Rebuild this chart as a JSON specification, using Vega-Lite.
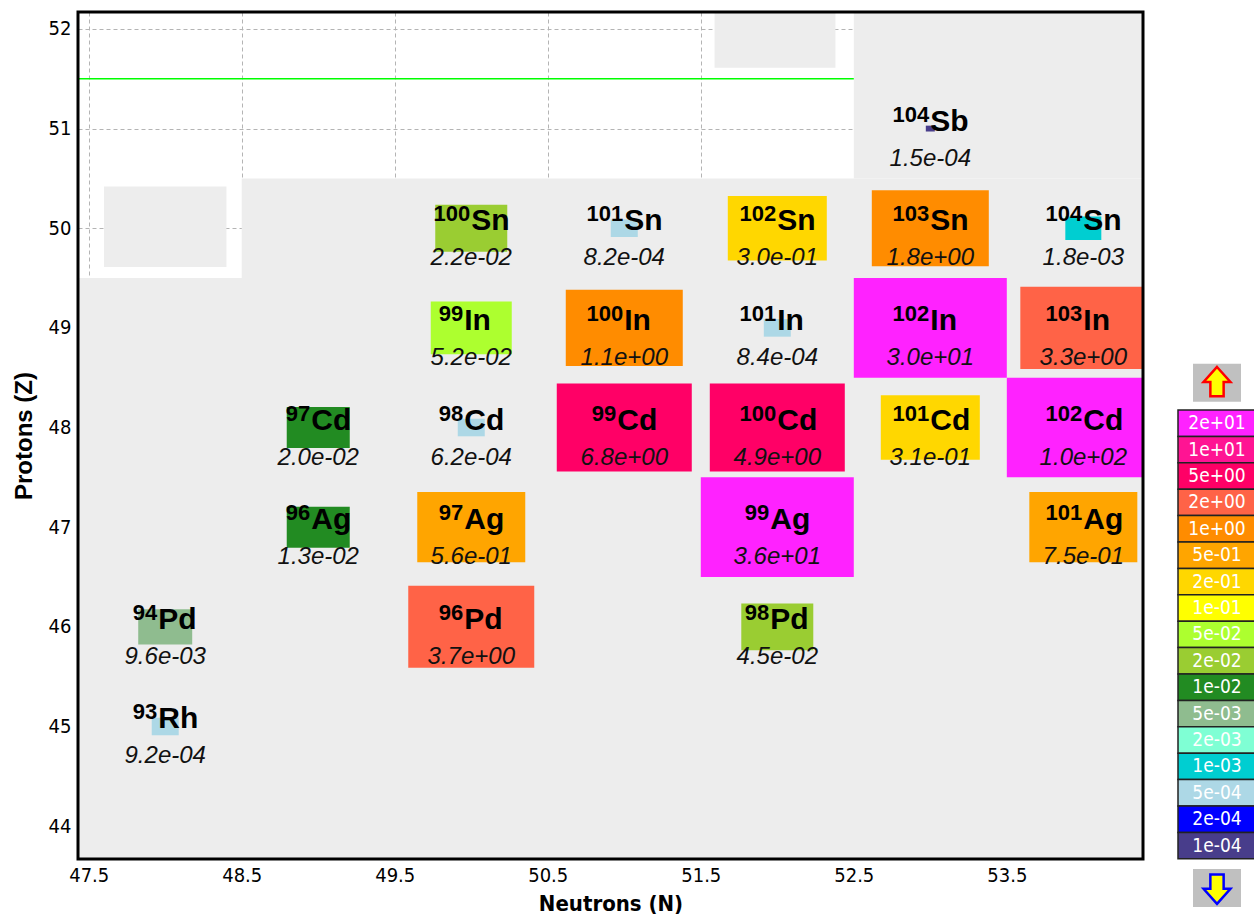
{
  "$schema": "https://vega.github.io/schema/vega-lite/v6.json",
  "padding": {"left": 12, "top": 10, "right": 0, "bottom": 0},
  "background": "white",
  "spacing": 32,
  "config": {"view": {"stroke": null}},
  "hconcat": [
    {
      "width": 1065,
      "height": 847,
      "data": {"values": [
        {"N": 48, "Z": 45, "A": 93, "sym": "Rh", "value": "9.2e-04", "bin": "5e-04"},
        {"N": 48, "Z": 46, "A": 94, "sym": "Pd", "value": "9.6e-03", "bin": "5e-03"},
        {"N": 50, "Z": 46, "A": 96, "sym": "Pd", "value": "3.7e+00", "bin": "2e+00"},
        {"N": 52, "Z": 46, "A": 98, "sym": "Pd", "value": "4.5e-02", "bin": "2e-02"},
        {"N": 49, "Z": 47, "A": 96, "sym": "Ag", "value": "1.3e-02", "bin": "1e-02"},
        {"N": 50, "Z": 47, "A": 97, "sym": "Ag", "value": "5.6e-01", "bin": "5e-01"},
        {"N": 52, "Z": 47, "A": 99, "sym": "Ag", "value": "3.6e+01", "bin": "2e+01"},
        {"N": 54, "Z": 47, "A": 101, "sym": "Ag", "value": "7.5e-01", "bin": "5e-01"},
        {"N": 49, "Z": 48, "A": 97, "sym": "Cd", "value": "2.0e-02", "bin": "1e-02"},
        {"N": 50, "Z": 48, "A": 98, "sym": "Cd", "value": "6.2e-04", "bin": "5e-04"},
        {"N": 51, "Z": 48, "A": 99, "sym": "Cd", "value": "6.8e+00", "bin": "5e+00"},
        {"N": 52, "Z": 48, "A": 100, "sym": "Cd", "value": "4.9e+00", "bin": "5e+00"},
        {"N": 53, "Z": 48, "A": 101, "sym": "Cd", "value": "3.1e-01", "bin": "2e-01"},
        {"N": 54, "Z": 48, "A": 102, "sym": "Cd", "value": "1.0e+02", "bin": "2e+01"},
        {"N": 50, "Z": 49, "A": 99, "sym": "In", "value": "5.2e-02", "bin": "5e-02"},
        {"N": 51, "Z": 49, "A": 100, "sym": "In", "value": "1.1e+00", "bin": "1e+00"},
        {"N": 52, "Z": 49, "A": 101, "sym": "In", "value": "8.4e-04", "bin": "5e-04"},
        {"N": 53, "Z": 49, "A": 102, "sym": "In", "value": "3.0e+01", "bin": "2e+01"},
        {"N": 54, "Z": 49, "A": 103, "sym": "In", "value": "3.3e+00", "bin": "2e+00"},
        {"N": 50, "Z": 50, "A": 100, "sym": "Sn", "value": "2.2e-02", "bin": "2e-02"},
        {"N": 51, "Z": 50, "A": 101, "sym": "Sn", "value": "8.2e-04", "bin": "5e-04"},
        {"N": 52, "Z": 50, "A": 102, "sym": "Sn", "value": "3.0e-01", "bin": "2e-01"},
        {"N": 53, "Z": 50, "A": 103, "sym": "Sn", "value": "1.8e+00", "bin": "1e+00"},
        {"N": 54, "Z": 50, "A": 104, "sym": "Sn", "value": "1.8e-03", "bin": "1e-03"},
        {"N": 53, "Z": 51, "A": 104, "sym": "Sb", "value": "1.5e-04", "bin": "1e-04"}
      ]},
      "layer": [
        {
          "data": {"values": [{}]},
          "mark": {"type": "rect", "color": "#ededed"},
          "encoding": {
            "x": {"datum": 47.43, "type": "quantitative", "scale": {"domain": [47.43, 54.39], "nice": false, "zero": false}},
            "x2": {"datum": 54.39},
            "y": {"datum": 43.67, "type": "quantitative", "scale": {"domain": [43.67, 52.17], "nice": false, "zero": false}},
            "y2": {"datum": 49.5}
          }
        },
        {
          "data": {"values": [{}]},
          "mark": {"type": "rect", "color": "#ededed"},
          "encoding": {
            "x": {"datum": 48.5, "type": "quantitative"},
            "x2": {"datum": 54.39},
            "y": {"datum": 49.5, "type": "quantitative"},
            "y2": {"datum": 50.5}
          }
        },
        {
          "data": {"values": [{}]},
          "mark": {"type": "rect", "color": "#ededed"},
          "encoding": {
            "x": {"datum": 52.5, "type": "quantitative"},
            "x2": {"datum": 54.39},
            "y": {"datum": 50.5, "type": "quantitative"},
            "y2": {"datum": 52.17}
          }
        },
        {
          "data": {"values": [{}]},
          "mark": {"type": "rect", "color": "#ededed"},
          "encoding": {
            "x": {"datum": 47.6, "type": "quantitative"},
            "x2": {"datum": 48.4},
            "y": {"datum": 49.61, "type": "quantitative"},
            "y2": {"datum": 50.42}
          }
        },
        {
          "data": {"values": [{}]},
          "mark": {"type": "rect", "color": "#ededed"},
          "encoding": {
            "x": {"datum": 51.59, "type": "quantitative"},
            "x2": {"datum": 52.38},
            "y": {"datum": 51.61, "type": "quantitative"},
            "y2": {"datum": 52.17}
          }
        },
        {
          "data": {"values": [{}]},
          "mark": {"type": "rule", "color": "#00ff00", "strokeWidth": 1.5},
          "encoding": {
            "x": {"datum": 47.43, "type": "quantitative"},
            "x2": {"datum": 52.5},
            "y": {"datum": 51.5, "type": "quantitative"}
          }
        },
        {
          "mark": {"type": "point", "filled": true, "opacity": 1, "strokeWidth": 0, "size": 23409, "clip": true},
          "encoding": {
            "x": {
              "field": "N", "type": "quantitative",
              "scale": {"domain": [47.43, 54.39], "nice": false, "zero": false},
              "axis": {
                "values": [47.5, 48.5, 49.5, 50.5, 51.5, 52.5, 53.5], "format": ".1f",
                "labelFont": "'Liberation Sans Narrow', 'DejaVu Sans Condensed', 'Liberation Sans', sans-serif", "labelFontSize": 20, "labelColor": "#000",
                "ticks": false, "labelPadding": 6, "domain": false,
                "grid": true, "gridColor": "#b4b4b4", "gridDash": [4, 3], "gridWidth": 1,
                "title": "Neutrons (N)", "titleFont": "'Liberation Sans Narrow', 'DejaVu Sans Condensed', 'Liberation Sans', sans-serif", "titleFontSize": 22,
                "titleFontWeight": "bold", "titleColor": "#000", "titlePadding": 8
              }
            },
            "y": {
              "field": "Z", "type": "quantitative",
              "scale": {"domain": [43.67, 52.17], "nice": false, "zero": false},
              "axis": {
                "values": [44, 45, 46, 47, 48, 49, 50, 51, 52], "format": "d",
                "labelFont": "'Liberation Sans Narrow', 'DejaVu Sans Condensed', 'Liberation Sans', sans-serif", "labelFontSize": 20, "labelColor": "#000",
                "ticks": false, "labelPadding": 7, "domain": false,
                "grid": true, "gridColor": "#b4b4b4", "gridDash": [4, 3], "gridWidth": 1,
                "title": "Protons (Z)", "titleFont": "Liberation Sans", "titleFontSize": 24,
                "titleFontWeight": "bold", "titleColor": "#000", "titlePadding": 12
              }
            },
            "color": {
              "field": "bin", "type": "nominal", "legend": null,
              "scale": {
                "domain": ["1e-04", "2e-04", "5e-04", "1e-03", "2e-03", "5e-03", "1e-02", "2e-02", "5e-02", "1e-01", "2e-01", "5e-01", "1e+00", "2e+00", "5e+00", "1e+01", "2e+01"],
                "range": ["#483d8b", "#0000ff", "#add8e6", "#00ced1", "#7fffd4", "#8fbc8f", "#228b22", "#9acd32", "#adff2f", "#ffff00", "#ffd700", "#ffa500", "#ff8c00", "#ff6347", "#ff0066", "#ff1493", "#ff22ff"]
              }
            },
            "shape": {
              "field": "bin", "type": "nominal", "legend": null,
              "scale": {
                "domain": ["1e-04", "2e-04", "5e-04", "1e-03", "2e-03", "5e-03", "1e-02", "2e-02", "5e-02", "1e-01", "2e-01", "5e-01", "1e+00", "2e+00", "5e+00", "1e+01", "2e+01"],
                "range": [
                  "M-0.0588,-0.0383L0.0588,-0.0383L0.0588,0.0383L-0.0588,0.0383Z",
                  "M-0.1176,-0.0766L0.1176,-0.0766L0.1176,0.0766L-0.1176,0.0766Z",
                  "M-0.1765,-0.1149L0.1765,-0.1149L0.1765,0.1149L-0.1765,0.1149Z",
                  "M-0.2353,-0.1532L0.2353,-0.1532L0.2353,0.1532L-0.2353,0.1532Z",
                  "M-0.2941,-0.1915L0.2941,-0.1915L0.2941,0.1915L-0.2941,0.1915Z",
                  "M-0.3529,-0.2298L0.3529,-0.2298L0.3529,0.2298L-0.3529,0.2298Z",
                  "M-0.4118,-0.2681L0.4118,-0.2681L0.4118,0.2681L-0.4118,0.2681Z",
                  "M-0.4706,-0.3064L0.4706,-0.3064L0.4706,0.3064L-0.4706,0.3064Z",
                  "M-0.5294,-0.3447L0.5294,-0.3447L0.5294,0.3447L-0.5294,0.3447Z",
                  "M-0.5882,-0.3829L0.5882,-0.3829L0.5882,0.3829L-0.5882,0.3829Z",
                  "M-0.6471,-0.4212L0.6471,-0.4212L0.6471,0.4212L-0.6471,0.4212Z",
                  "M-0.7059,-0.4595L0.7059,-0.4595L0.7059,0.4595L-0.7059,0.4595Z",
                  "M-0.7647,-0.4978L0.7647,-0.4978L0.7647,0.4978L-0.7647,0.4978Z",
                  "M-0.8235,-0.5361L0.8235,-0.5361L0.8235,0.5361L-0.8235,0.5361Z",
                  "M-0.8824,-0.5744L0.8824,-0.5744L0.8824,0.5744L-0.8824,0.5744Z",
                  "M-0.9412,-0.6127L0.9412,-0.6127L0.9412,0.6127L-0.9412,0.6127Z",
                  "M-1,-0.651L1,-0.651L1,0.651L-1,0.651Z"
                ]
              }
            }
          }
        },
        {
          "transform": [{"filter": "datum.A < 100"}],
          "mark": {"type": "text", "font": "Liberation Sans", "fontWeight": "bold", "fontSize": 22, "align": "right", "baseline": "alphabetic", "dx": -8, "dy": -7, "color": "#000"},
          "encoding": {"x": {"field": "N", "type": "quantitative"}, "y": {"field": "Z", "type": "quantitative"}, "text": {"field": "A"}}
        },
        {
          "transform": [{"filter": "datum.A >= 100"}],
          "mark": {"type": "text", "font": "Liberation Sans", "fontWeight": "bold", "fontSize": 22, "align": "right", "baseline": "alphabetic", "dx": -1, "dy": -7, "color": "#000"},
          "encoding": {"x": {"field": "N", "type": "quantitative"}, "y": {"field": "Z", "type": "quantitative"}, "text": {"field": "A"}}
        },
        {
          "transform": [{"filter": "datum.A < 100"}],
          "mark": {"type": "text", "font": "Liberation Sans", "fontWeight": "bold", "fontSize": 30, "align": "left", "baseline": "alphabetic", "dx": -7, "dy": 2, "color": "#000"},
          "encoding": {"x": {"field": "N", "type": "quantitative"}, "y": {"field": "Z", "type": "quantitative"}, "text": {"field": "sym"}}
        },
        {
          "transform": [{"filter": "datum.A >= 100"}],
          "mark": {"type": "text", "font": "Liberation Sans", "fontWeight": "bold", "fontSize": 30, "align": "left", "baseline": "alphabetic", "dx": 0, "dy": 2, "color": "#000"},
          "encoding": {"x": {"field": "N", "type": "quantitative"}, "y": {"field": "Z", "type": "quantitative"}, "text": {"field": "sym"}}
        },
        {
          "mark": {"type": "text", "font": "Liberation Sans", "fontStyle": "italic", "fontSize": 24, "align": "center", "baseline": "alphabetic", "dy": 37, "color": "#111"},
          "encoding": {"x": {"field": "N", "type": "quantitative"}, "y": {"field": "Z", "type": "quantitative"}, "text": {"field": "value"}}
        },
        {
          "data": {"values": [{}]},
          "mark": {"type": "rect", "filled": false, "stroke": "#000", "strokeWidth": 3},
          "encoding": {
            "x": {"datum": 47.43, "type": "quantitative"},
            "x2": {"datum": 54.39},
            "y": {"datum": 43.67, "type": "quantitative"},
            "y2": {"datum": 52.17}
          }
        }
      ]
    },
    {
      "width": 78,
      "height": 900,
      "data": {"values": [
        {"bin": "2e+01"}, {"bin": "1e+01"}, {"bin": "5e+00"}, {"bin": "2e+00"}, {"bin": "1e+00"},
        {"bin": "5e-01"}, {"bin": "2e-01"}, {"bin": "1e-01"}, {"bin": "5e-02"}, {"bin": "2e-02"},
        {"bin": "1e-02"}, {"bin": "5e-03"}, {"bin": "2e-03"}, {"bin": "1e-03"}, {"bin": "5e-04"},
        {"bin": "2e-04"}, {"bin": "1e-04"}
      ]},
      "layer": [
        {
          "mark": {"type": "rect", "stroke": "#222", "strokeWidth": 1.5},
          "encoding": {
            "y": {
              "field": "bin", "type": "nominal", "axis": null,
              "scale": {
                "domain": ["up", "2e+01", "1e+01", "5e+00", "2e+00", "1e+00", "5e-01", "2e-01", "1e-01", "5e-02", "2e-02", "1e-02", "5e-03", "2e-03", "1e-03", "5e-04", "2e-04", "1e-04", "down"],
                "paddingInner": 0, "paddingOuter": 0, "range": [371.6, 873.2]
              }
            },
            "color": {
              "field": "bin", "type": "nominal", "legend": null,
              "scale": {
                "domain": ["1e-04", "2e-04", "5e-04", "1e-03", "2e-03", "5e-03", "1e-02", "2e-02", "5e-02", "1e-01", "2e-01", "5e-01", "1e+00", "2e+00", "5e+00", "1e+01", "2e+01"],
                "range": ["#483d8b", "#0000ff", "#add8e6", "#00ced1", "#7fffd4", "#8fbc8f", "#228b22", "#9acd32", "#adff2f", "#ffff00", "#ffd700", "#ffa500", "#ff8c00", "#ff6347", "#ff0066", "#ff1493", "#ff22ff"]
              }
            }
          }
        },
        {
          "mark": {"type": "text", "color": "white", "font": "'Liberation Sans Narrow', 'DejaVu Sans Condensed', 'Liberation Sans', sans-serif", "fontSize": 19, "align": "center", "baseline": "middle"},
          "encoding": {
            "y": {"field": "bin", "type": "nominal"},
            "text": {"field": "bin"}
          }
        },
        {
          "data": {"values": [{}]},
          "mark": {"type": "point", "filled": true, "opacity": 1, "strokeWidth": 0, "color": "#c0c0c0", "size": 2304, "shape": "M-1,-0.79L1,-0.79L1,0.79L-1,0.79Z", "yOffset": -14},
          "encoding": {"y": {"datum": "up", "type": "nominal"}}
        },
        {
          "data": {"values": [{}]},
          "mark": {"type": "point", "filled": true, "opacity": 1, "strokeWidth": 0, "color": "#c0c0c0", "size": 2304, "shape": "M-1,-0.79L1,-0.79L1,0.79L-1,0.79Z", "yOffset": 16},
          "encoding": {"y": {"datum": "down", "type": "nominal"}}
        },
        {
          "data": {"values": [{}]},
          "mark": {"type": "point", "filled": true, "opacity": 1, "fill": "#ffff00", "stroke": "#ff0000", "strokeWidth": 2.5, "size": 1000, "shape": "M0,-1L0.85,-0.05L0.42,-0.05L0.42,0.85L-0.42,0.85L-0.42,-0.05L-0.85,-0.05Z", "yOffset": -14},
          "encoding": {"y": {"datum": "up", "type": "nominal"}}
        },
        {
          "data": {"values": [{}]},
          "mark": {"type": "point", "filled": true, "opacity": 1, "fill": "#ffff00", "stroke": "#0000ff", "strokeWidth": 2.5, "size": 1000, "shape": "M0,1L0.85,0.05L0.42,0.05L0.42,-0.85L-0.42,-0.85L-0.42,0.05L-0.85,0.05Z", "yOffset": 16},
          "encoding": {"y": {"datum": "down", "type": "nominal"}}
        }
      ]
    }
  ]
}
